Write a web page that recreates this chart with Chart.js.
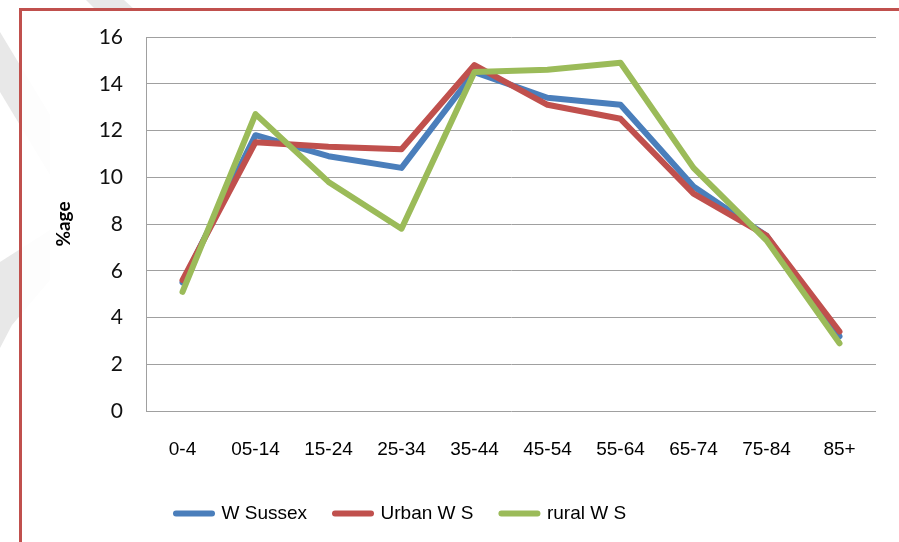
<!DOCTYPE html>
<html>
<head>
<meta charset="utf-8">
<script src="https://cdn.jsdelivr.net/npm/chart.js@4/dist/chart.umd.min.js"></script>
<style>
  html, body { margin: 0; padding: 0; width: 899px; height: 542px; overflow: hidden; background: #fff; }
  #wm { position: absolute; left: 0; top: 0; z-index: 0; }
  #frame { position: absolute; left: 19px; top: 8px; width: 900px; height: 560px;
           border-left: 3px solid #c0504d; border-top: 3px solid #c0504d; background: rgba(255,255,255,0.88); z-index: 1; }
  #wrap { position: absolute; left: 0; top: 0; width: 899px; height: 542px; z-index: 2; }
</style>
</head>
<body>
<svg id="wm" width="899" height="542">
  <g fill="#e8e8e8">
    <polygon points="86,0 124,0 135,10 96,10"/>
    <polygon points="0,32 0,92 50,175 50,115"/>
    <polygon points="50,230 50,280 12,325 0,348 0,262"/>
  </g>
</svg>
<div id="frame"></div>
<div id="wrap"><canvas id="c" width="899" height="542"></canvas></div>
<script>
const categories = ['0-4','05-14','15-24','25-34','35-44','45-54','55-64','65-74','75-84','85+'];
const wSussex = [5.5, 11.8, 10.9, 10.4, 14.5, 13.4, 13.1, 9.6, 7.5, 3.2];
const urbanWS = [5.6, 11.5, 11.3, 11.2, 14.8, 13.1, 12.5, 9.3, 7.5, 3.4];
const ruralWS = [5.1, 12.7, 9.8, 7.8, 14.5, 14.6, 14.9, 10.4, 7.3, 2.9];
const seriesNames = ['W Sussex', 'Urban W S', 'rural W S'];
const yTicks = [0, 2, 4, 6, 8, 10, 12, 14, 16];
const yTitle = '%age';

const sans = "'Liberation Sans', Arial, sans-serif";

function ds(label, data, color, order) {
  return {
    label, data,
    borderColor: color, backgroundColor: color,
    borderWidth: 6, borderCapStyle: 'round', borderJoinStyle: 'round',
    pointRadius: 0, pointHoverRadius: 0, tension: 0, fill: false, order
  };
}

const legendShift = {
  id: 'legendShift',
  afterLayout(chart) {
    const lg = chart.legend;
    if (lg) { const w = lg.right - lg.left; lg.left = 148; lg.right = 148 + w; }
  }
};

new Chart(document.getElementById('c'), {
  type: 'line',
  data: {
    labels: categories,
    datasets: [
      ds(seriesNames[0], wSussex, '#4a7ebb', 3),
      ds(seriesNames[1], urbanWS, '#c0504d', 2),
      ds(seriesNames[2], ruralWS, '#9bbb59', 1)
    ]
  },
  plugins: [legendShift],
  options: {
    responsive: false,
    animation: false,
    devicePixelRatio: 1,
    layout: { padding: { left: 48, right: 23, top: 37, bottom: 9 } },
    plugins: {
      tooltip: { enabled: false },
      legend: {
        position: 'bottom',
        align: 'start',
        labels: {
          usePointStyle: true,
          pointStyle: 'line',
          pointStyleWidth: 36,
          padding: 28,
          color: '#000',
          font: { family: sans, size: 19 },
          sort: (a, b) => a.datasetIndex - b.datasetIndex,
          generateLabels: chart => Chart.defaults.plugins.legend.labels.generateLabels(chart)
            .map(item => Object.assign(item, { lineCap: 'round', lineWidth: 6 }))
        }
      }
    },
    scales: {
      x: {
        offset: true,
        grid: { display: false, drawTicks: false },
        border: { display: false },
        ticks: { color: '#000', padding: 27, maxRotation: 0, autoSkip: false,
                 font: { family: sans, size: 19 } },
        afterFit: s => { s.height = 65; }
      },
      y: {
        min: 0, max: 16,
        afterBuildTicks: s => { s.ticks = yTicks.map(v => ({ value: v })); },
        grid: { color: '#a0a0a0', lineWidth: 1, drawTicks: false },
        border: { display: true, color: '#a0a0a0', width: 1 },
        ticks: { color: '#111', padding: 23, font: { family: 'Lato, sans-serif', size: 21 } },
        title: { display: true, text: yTitle, color: '#000',
                 font: { family: 'Lato, sans-serif', size: 19, weight: 'bold' } },
        afterFit: s => { s.width = 98; }
      }
    }
  }
});
</script>
</body>
</html>
